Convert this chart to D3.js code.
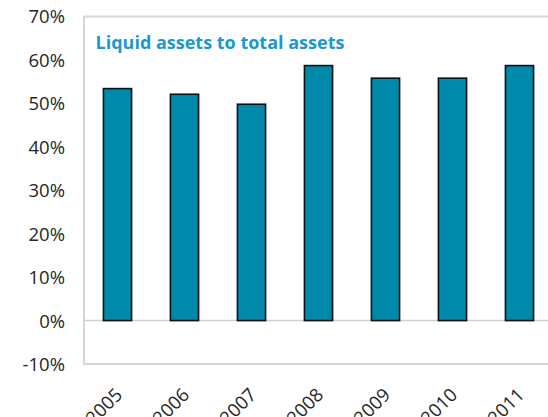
<!DOCTYPE html>
<html>
<head>
<meta charset="utf-8">
<script src="https://cdn.jsdelivr.net/npm/d3@7"></script>
<style>
  html, body { margin: 0; padding: 0; background: #fff; }
  svg { display: block; }
</style>
</head>
<body>
<svg id="chart" width="548" height="417"></svg>
<script>
const categories = ["2005", "2006", "2007", "2008", "2009", "2010", "2011"];
const values = [53.4, 52.1, 49.8, 58.7, 55.8, 55.8, 58.7];
const yTicks = [-10, 0, 10, 20, 30, 40, 50, 60, 70];
const title = "Liquid assets to total assets";

const svg = d3.select("#chart");
const plotL = 84, plotR = 553, plotT = 16.5, plotB = 364;

const x = d3.scaleBand().domain(categories).range([plotL, plotR]).paddingInner(0.58).paddingOuter(0.29);
const y = d3.scaleLinear().domain([-10, 70]).range([plotB, plotT]);

// plot frame
svg.append("rect")
  .attr("x", plotL).attr("y", plotT)
  .attr("width", 600).attr("height", plotB - plotT)
  .attr("fill", "none").attr("stroke", "#d6d6d6").attr("stroke-width", 2);

// zero line
svg.append("line")
  .attr("x1", plotL).attr("x2", 548)
  .attr("y1", y(0)).attr("y2", y(0))
  .attr("stroke", "#cfcfcf").attr("stroke-width", 1.5);

// bars
svg.selectAll("rect.bar").data(values).join("rect")
  .attr("class", "bar")
  .attr("x", (d, i) => x(categories[i]))
  .attr("width", x.bandwidth())
  .attr("y", d => y(Math.max(0, d)))
  .attr("height", d => Math.abs(y(d) - y(0)))
  .attr("fill", "#0089ab")
  .attr("stroke", "#111")
  .attr("stroke-width", 1.6);

// y axis labels
const yAxis = d3.axisLeft(y).tickValues(yTicks).tickSize(0).tickPadding(0)
  .tickFormat(d => d + "%");
const gy = svg.append("g").attr("transform", `translate(65,0)`).call(yAxis);
gy.select(".domain").remove();
gy.selectAll("text")
  .attr("font-family", "'Open Sans', sans-serif")
  .attr("font-size", 18.5)
  .attr("fill", "#262626")
  .attr("dy", "0.35em");

// x axis labels
const xAxis = d3.axisBottom(x).tickSize(0).tickPadding(0);
const gx = svg.append("g").call(xAxis);
gx.select(".domain").remove();
gx.selectAll(".tick").attr("transform", d => `translate(${x(d) + x.bandwidth() / 2 + 6},396)`);
gx.selectAll("text")
  .attr("font-family", "'Open Sans', sans-serif")
  .attr("font-size", 18.5)
  .attr("fill", "#262626")
  .attr("text-anchor", "end")
  .attr("dy", 0).attr("y", 0)
  .attr("transform", "rotate(-45)");

// title
svg.append("text")
  .attr("x", 95.5).attr("y", 49)
  .attr("font-family", "'Open Sans', sans-serif")
  .attr("font-weight", "bold")
  .attr("font-size", 18)
  .attr("fill", "#1b98d0")
  .text(title);
</script>
</body>
</html>
